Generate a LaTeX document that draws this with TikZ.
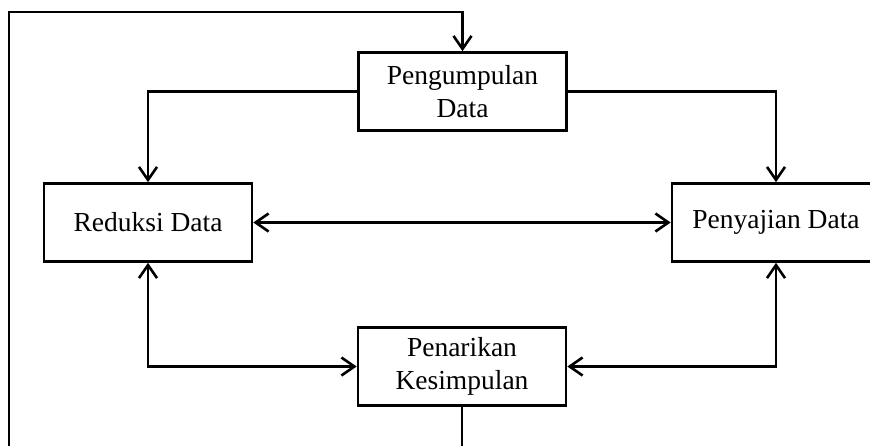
\documentclass[tikz,border=0pt]{standalone}
\usepackage{fontspec}
\setmainfont{Liberation Serif}
\usepackage{tikz}
\usetikzlibrary{arrows.meta}

\begin{document}
\begin{tikzpicture}[x=1pt, y=-1pt,
  box/.style={draw=black, line width=2.6pt, minimum width=208pt, minimum height=78pt,
    inner sep=0pt, align=center, font=\fontsize{27.5}{33}\selectfont},
  conn/.style={black, line width=2.6pt, arrows={-Straight Barb[length=13pt, width=18pt, line width=2.6pt]}},
  conn2/.style={conn, arrows={Straight Barb[length=13pt, width=18pt, line width=2.6pt]-Straight Barb[length=13pt, width=18pt, line width=2.6pt]}}]
\clip (0,0) rectangle (870,445);
\fill [white] (0,0) rectangle (870,445);
\node [box] (kumpul) at (462.5,91.5) {Pengumpulan\\Data};
\node [box] (reduksi) at (148,222.5) {Reduksi Data};
\node [box] (sajian) at (776,222.5) {Penyajian Data};
\node [box] (tarik) at (462,366.5) {Penarikan\\Kesimpulan};
\coordinate (fbbot) at (9,447);
\coordinate (fbtop) at (9,12);
\draw [conn] (kumpul.west) -| (reduksi.north);
\draw [conn] (kumpul.east) -| (sajian.north);
\draw [conn2] (reduksi) -- (sajian);
\draw [conn2] (reduksi.south) |- (tarik.west);
\draw [conn2] (sajian.south) |- (tarik.east);
\draw [conn] (tarik.south) |- (fbbot) -- (fbtop) -| (kumpul.north);
\end{tikzpicture}
\end{document}
